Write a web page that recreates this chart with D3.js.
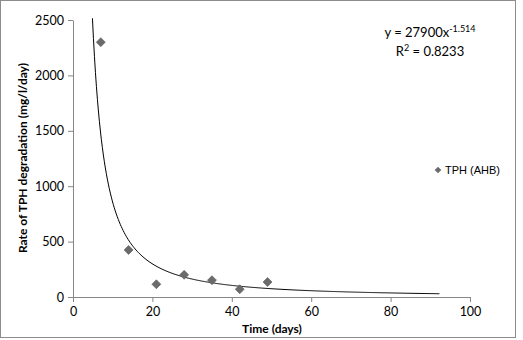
<!DOCTYPE html>
<html>
<head>
<meta charset="utf-8">
<script src="https://cdn.jsdelivr.net/npm/d3@7"></script>
<style>
  body { margin: 0; background: #fff; }
  svg { display: block; }
</style>
</head>
<body>
<div id="chart"></div>
<script>
// Data
const days = [7, 14, 21, 28, 35, 42, 49];
const rates = [2300, 425, 115, 200, 152, 70, 135];
const xTicks = [0, 20, 40, 60, 80, 100];
const yTicks = [0, 500, 1000, 1500, 2000, 2500];
// Power trendline as labelled on the chart: y = a * x^b
const trendCoef = [27900, -1.514];
const trendRange = [4.9, 92.3];

const W = 523, H = 340;
const margin = { top: 20, right: 53, bottom: 43, left: 73 },
      width = 470 - margin.left,
      height = 297 - margin.top;

const svg = d3.select("#chart")
  .append("svg")
  .attr("width", W)
  .attr("height", H);

// outer chart border
svg.append("rect")
  .attr("x", 0.5).attr("y", 0.5)
  .attr("width", 515).attr("height", 337)
  .attr("fill", "#fff")
  .attr("stroke", "#8c8c8c");

const g = svg.append("g")
  .attr("transform", `translate(${margin.left},${margin.top})`);

const x = d3.scaleLinear().domain([0, 100]).range([0, width]);
const y = d3.scaleLinear().domain([0, 2500]).range([height, 0]);

const tickFont = "Lato, 'Open Sans', sans-serif";

// Axes
const xAxis = g.append("g")
  .attr("transform", `translate(0,${height})`)
  .call(d3.axisBottom(x).tickValues(xTicks).tickFormat(d3.format("d"))
    .tickSize(5).tickPadding(5).tickSizeOuter(0));
const yAxis = g.append("g")
  .call(d3.axisLeft(y).tickValues(yTicks).tickFormat(d3.format("d"))
    .tickSize(5).tickPadding(4).tickSizeOuter(0));

[xAxis, yAxis].forEach(a => {
  a.select(".domain").attr("stroke", "#868686");
  a.selectAll(".tick line").attr("stroke", "#868686");
  a.selectAll(".tick text")
    .attr("fill", "#000")
    .style("font-family", tickFont)
    .style("font-size", "12.5px");
});

// Trendline
const trendX = d3.range(trendRange[0], trendRange[1], 0.25).concat([trendRange[1]]);
const line = d3.line()
  .x(d => x(d))
  .y(d => y(trendCoef[0] * Math.pow(d, trendCoef[1])));
g.append("path")
  .datum(trendX)
  .attr("d", line)
  .attr("fill", "none")
  .attr("stroke", "#000")
  .attr("stroke-width", 1);

// Points (Excel diamond = rotated square)
const diamond = d3.symbol().type(d3.symbolSquare).size(40);
g.selectAll(".pt")
  .data(days.map((d, i) => ({ x: d, y: rates[i] })))
  .enter()
  .append("path")
  .attr("class", "pt")
  .attr("d", diamond)
  .attr("transform", d => `translate(${x(d.x)},${y(d.y)}) rotate(45)`)
  .attr("fill", "#6b6b6b")
  .attr("stroke", "#5a5a5a")
  .attr("stroke-width", 0.6);

// Axis titles
svg.append("text")
  .attr("x", 272)
  .attr("y", 333)
  .attr("text-anchor", "middle")
  .style("font-family", tickFont)
  .style("font-size", "12px")
  .style("font-weight", "bold")
  .text("Time (days)");

svg.append("text")
  .attr("transform", "rotate(-90)")
  .attr("x", -158)
  .attr("y", 27)
  .attr("text-anchor", "middle")
  .style("font-family", tickFont)
  .style("font-size", "12px")
  .style("font-weight", "bold")
  .text("Rate of TPH degradation (mg/l/day)");

// Trendline equation
const eq = svg.append("text")
  .attr("x", 430)
  .attr("y", 37)
  .attr("text-anchor", "middle")
  .style("font-family", tickFont)
  .style("font-size", "13px");
eq.append("tspan").text(`y = ${trendCoef[0]}x`);
eq.append("tspan").attr("dy", -5).style("font-size", "9px").text(trendCoef[1].toFixed(3));

const r2 = svg.append("text")
  .attr("x", 430)
  .attr("y", 56)
  .attr("text-anchor", "middle")
  .style("font-family", tickFont)
  .style("font-size", "13px");
r2.append("tspan").text("R");
r2.append("tspan").attr("dy", -5).style("font-size", "9px").text("2");
r2.append("tspan").attr("dy", 5).text(" = 0.8233");

// Legend
svg.append("path")
  .attr("d", d3.symbol().type(d3.symbolSquare).size(22))
  .attr("transform", "translate(438,170) rotate(45)")
  .attr("fill", "#6b6b6b");
svg.append("text")
  .attr("x", 445)
  .attr("y", 174)
  .style("font-family", "'Liberation Sans', Arial, sans-serif")
  .style("font-size", "11px")
  .text("TPH (AHB)");
</script>
</body>
</html>
